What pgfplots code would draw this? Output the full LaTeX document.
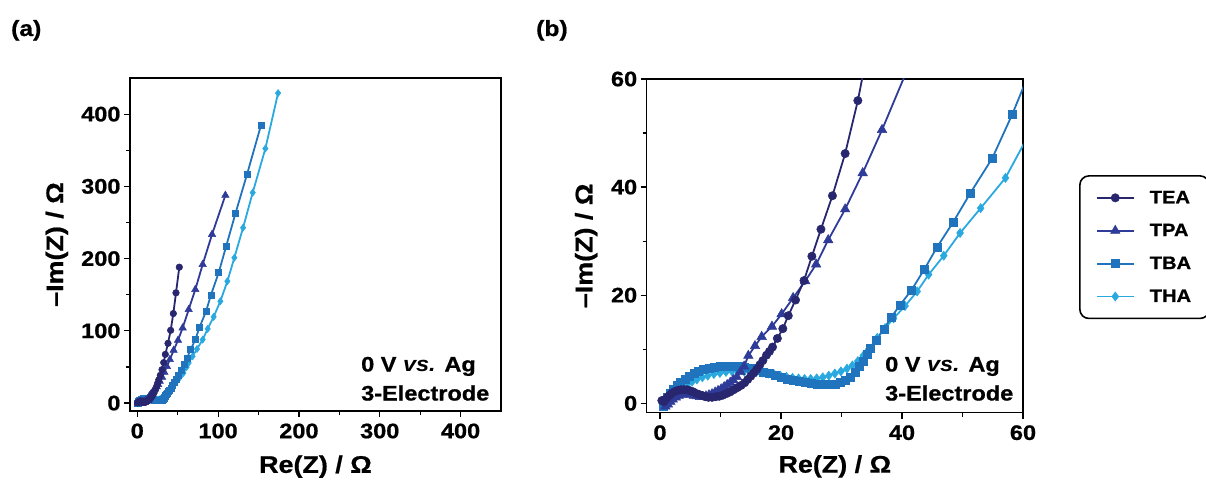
\documentclass[border=0pt]{standalone}
\usepackage{fontspec}
\setmainfont{Liberation Sans}[FakeStretch=1.12, BoldFeatures={FakeBold=0.8}]
\usepackage{pgfplots}
\pgfplotsset{compat=1.18}
\usepackage{pgfplotstable}

\definecolor{cTEA}{HTML}{27266E}
\definecolor{cTPA}{HTML}{2F3B98}
\definecolor{cTBA}{HTML}{1F74BD}
\definecolor{cTHA}{HTML}{2AA9E0}

\pgfplotstableread{
x y
0.3 0.5
0.6 0.3
0.9 0.7
1.2 1.1
1.6 1.5
2.0 1.9
2.5 2.2
3.0 2.4
3.5 2.5
4.0 2.5
4.5 2.5
5.0 2.3
5.5 2.1
6.0 1.8
6.5 1.6
7.0 1.4
7.5 1.2
8.0 1.1
8.6 1.1
9.2 1.2
9.8 1.3
10.4 1.5
11.0 1.8
11.6 2.1
12.2 2.5
12.8 2.9
13.4 3.3
14.0 3.8
14.5 4.4
15.0 5.0
15.5 5.6
16.0 6.3
16.5 7.1
17.0 7.9
17.6 8.9
18.1 9.6
18.6 10.4
19.4 12.0
20.3 13.8
21.2 16.2
22.4 19.1
23.8 22.7
25.1 27.2
26.6 32.2
28.5 38.4
30.6 46.2
32.7 56.0
34.7 67.4
38.0 82.7
41.3 100.7
44.6 123.9
47.9 152.6
52.0 188.1
}\TEA

\pgfplotstableread{
x y
0.9 -0.6
1.3 -0.2
1.7 0.3
2.1 0.7
2.6 1.1
3.1 1.4
3.6 1.6
4.1 1.7
4.6 1.7
5.1 1.6
5.6 1.4
6.1 1.3
6.6 1.2
7.1 1.2
7.6 1.3
8.1 1.5
8.6 1.7
9.1 2.0
9.6 2.3
10.1 2.6
10.6 3.0
11.1 3.4
11.6 3.8
12.1 4.3
12.7 4.9
13.3 5.8
13.9 6.8
14.6 8.8
15.7 10.6
16.8 12.3
18.5 14.2
20.1 16.5
22.0 19.5
24.0 22.6
25.8 25.7
27.8 30.2
30.6 35.9
33.5 42.6
36.7 50.6
40.3 60.2
45.0 73.0
50.4 86.9
56.1 104.0
63.6 129.4
71.8 157.2
80.9 191.9
92.5 233.5
109.0 287.6
}\TPA

\pgfplotstableread{
x y
0.5 -0.5
0.8 0.3
1.2 1.1
1.7 1.9
2.2 2.6
2.8 3.3
3.4 3.9
4.1 4.5
4.8 5.0
5.6 5.5
6.4 5.9
7.2 6.2
8.1 6.5
9.0 6.7
10.0 6.8
11.0 6.9
12.0 6.9
13.0 6.8
14.0 6.6
15.0 6.4
16.0 6.1
17.0 5.8
18.0 5.5
19.0 5.1
20.0 4.8
21.0 4.5
22.0 4.2
23.0 4.0
24.0 3.8
25.0 3.7
26.0 3.6
27.0 3.5
28.0 3.5
29.0 3.6
29.8 3.8
30.6 4.2
31.4 4.8
32.2 5.7
33.0 6.8
33.6 7.8
34.2 9.0
34.7 10.2
35.7 11.7
37.0 13.7
38.2 15.9
39.7 18.2
41.6 21.0
43.7 24.8
45.8 28.9
48.4 33.4
51.3 38.9
54.9 45.3
58.2 53.4
61.5 62.4
66.0 73.9
71.8 87.8
77.2 105.4
85.0 126.7
91.2 149.8
100.7 180.4
109.8 216.4
121.4 262.2
135.8 316.7
153.2 385.1
}\TBA

\pgfplotstableread{
x y
1.0 -0.3
1.4 0.4
1.9 1.1
2.5 1.8
3.1 2.4
3.8 3.0
4.5 3.5
5.3 4.0
6.1 4.4
7.0 4.8
7.9 5.1
8.9 5.4
9.9 5.6
10.9 5.8
11.9 5.9
12.9 5.9
13.9 5.9
14.9 5.9
15.9 5.8
16.9 5.7
17.9 5.5
18.9 5.3
19.9 5.1
20.9 4.9
21.9 4.7
22.9 4.6
23.9 4.5
24.9 4.5
25.9 4.6
26.9 4.8
27.9 5.1
28.9 5.5
29.9 5.9
30.9 6.4
31.8 7.0
32.7 7.8
33.6 8.8
34.5 10.0
35.9 12.1
37.2 13.9
38.6 15.7
40.5 18.0
42.5 20.7
44.4 23.8
46.9 27.3
49.6 31.5
53.0 36.1
57.1 41.7
61.0 49.8
63.6 55.6
68.4 64.7
73.9 74.9
80.9 87.8
87.1 102.7
94.5 119.3
102.8 141.0
111.5 168.7
120.1 201.2
130.9 242.8
142.8 291.3
158.5 352.4
174.2 429.1
}\THA

\pgfplotsset{
  myax/.style={
    scale only axis,
    axis line style={line width=1.3pt},
    tick style={line width=1.2pt, black},
    tick align=outside,
    xtick pos=bottom, ytick pos=left,
    major tick length=6pt, minor tick length=4pt,
    ticklabel style={font=\bfseries\fontsize{21}{21}\selectfont},
    xticklabel style={yshift=-3pt},
    label style={font=\bfseries\fontsize{24}{24}\selectfont},
    /pgf/number format/assume math mode=true,
    every axis plot/.append style={line width=1.8pt},
    xlabel={Re(Z) / Ω},
    ylabel={–Im(Z) / Ω},
    minor x tick num=1, minor y tick num=1,
  }
}

\begin{document}
\begin{tikzpicture}
\useasboundingbox (0,0) rectangle (1206pt,482pt);

\begin{axis}[myax, at={(130pt,71pt)}, anchor=south west,
  width=371pt, height=333pt,
  xmin=-9, xmax=450, ymin=-11, ymax=450,
  xtick={0,100,200,300,400}, ytick={0,100,200,300,400},
  xlabel style={at={(axis description cs:0.5,-0.167)}, anchor=center},
  ylabel style={at={(axis description cs:-0.197,0.5)}, anchor=center}]
\addplot[color=cTHA, mark=diamond*, mark size=3.6pt, mark options={line width=0.5pt}] table {\THA};
\addplot[color=cTBA, mark=square*, mark size=3pt, mark options={line width=0.5pt}] table {\TBA};
\addplot[color=cTPA, mark=triangle*, mark size=4.3pt, mark options={line width=0.5pt}] table {\TPA};
\addplot[color=cTEA, mark=*, mark size=3.3pt, mark options={line width=0.5pt}] table {\TEA};
\end{axis}

\begin{axis}[myax, at={(646.7pt,69.3pt)}, anchor=south west,
  width=376.3pt, height=333.7pt,
  xmin=-2.2, xmax=60, ymin=-1.75, ymax=60,
  xtick={0,20,40,60}, ytick={0,20,40,60},
  xlabel style={at={(axis description cs:0.5,-0.161)}, anchor=center},
  ylabel style={at={(axis description cs:-0.161,0.5)}, anchor=center},
  reverse legend,
  legend cell align=left,
  legend style={at={(axis description cs:1.149,0.712)}, anchor=north west,
    draw=black, line width=1.6pt, rounded corners=9pt,
    font=\bfseries\fontsize{18}{18}\selectfont,
    row sep=15pt, inner xsep=16pt, inner ysep=13pt,
    /tikz/every odd column/.append style={column sep=13pt}},
  legend image code/.code={\draw[mark repeat=2,mark phase=2,#1] plot coordinates {(0pt,0pt)(18.5pt,0pt)(37pt,0pt)};}]
\addplot[color=cTHA, mark=diamond*, mark size=4.6pt, mark options={line width=0.5pt}] table {\THA};
\addlegendentry{THA}
\addplot[color=cTBA, mark=square*, mark size=4pt, mark options={line width=0.5pt}] table {\TBA};
\addlegendentry{TBA}
\addplot[color=cTPA, mark=triangle*, mark size=5.5pt, mark options={line width=0.5pt}] table {\TPA};
\addlegendentry{TPA}
\addplot[color=cTEA, mark=*, mark size=4.2pt, mark options={line width=0.5pt}] table {\TEA};
\addlegendentry{TEA}
\end{axis}

\node[anchor=base west, inner sep=0pt, font=\bfseries\fontsize{21}{21}\selectfont] at (361pt,110.5pt) {0 V \textit{vs.} Ag};
\node[anchor=base west, inner sep=0pt, font=\bfseries\fontsize{21}{21}\selectfont] at (361pt,81.5pt) {3-Electrode};
\node[anchor=base west, inner sep=0pt, font=\bfseries\fontsize{21}{21}\selectfont] at (885pt,110.5pt) {0 V \textit{vs.} Ag};
\node[anchor=base west, inner sep=0pt, font=\bfseries\fontsize{21}{21}\selectfont] at (885pt,81.5pt) {3-Electrode};

\node[anchor=base west, inner sep=0pt, font=\bfseries\fontsize{22}{22}\selectfont] at (11pt,446pt) {(a)};
\node[anchor=base west, inner sep=0pt, font=\bfseries\fontsize{22}{22}\selectfont] at (536pt,446pt) {(b)};
\end{tikzpicture}
\end{document}
